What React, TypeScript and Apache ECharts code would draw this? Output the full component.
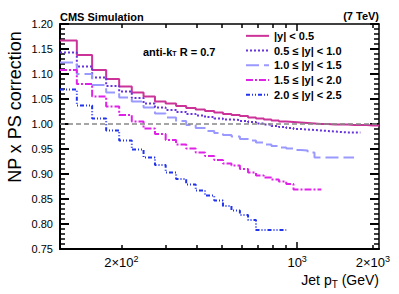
import React, { useEffect, useRef } from "react";
import * as echarts from "echarts";

// Bin edges of jet pT (GeV)
const ptEdges = [114, 133, 153, 174, 196, 220, 245, 272, 300, 330, 362, 395, 430, 468, 507, 548, 592, 638, 686, 737, 790, 846, 905, 967, 1032, 1101, 1172, 1248, 1327, 1410, 1497, 1588, 1684, 1784, 1890, 2000, 2116];

const seriesNames = ["|y| < 0.5", "0.5 ≤ |y| < 1.0", "1.0 ≤ |y| < 1.5", "1.5 ≤ |y| < 2.0", "2.0 ≤ |y| < 2.5"];

// NP x PS correction per bin (starting at the first bin edge)
const corrY00_05 = [1.167, 1.138, 1.108, 1.090, 1.075, 1.063, 1.055, 1.045, 1.041, 1.036, 1.032, 1.029, 1.026, 1.023, 1.020, 1.018, 1.016, 1.013, 1.011, 1.009, 1.007, 1.005, 1.004, 1.003, 1.002, 1.001, 1.000, 1.000, 0.999, 0.999, 0.999, 0.998, 0.998, 0.998, 0.997, 0.997];
const corrY05_10 = [1.143, 1.115, 1.093, 1.076, 1.065, 1.052, 1.041, 1.033, 1.028, 1.024, 1.020, 1.017, 1.014, 1.011, 1.009, 1.008, 1.006, 1.004, 1.001, 0.999, 0.996, 0.994, 0.992, 0.990, 0.989, 0.988, 0.987, 0.986, 0.985, 0.984, 0.983, 0.983, 0.983];
const corrY10_15 = [1.123, 1.100, 1.078, 1.063, 1.053, 1.045, 1.033, 1.021, 1.013, 1.006, 0.998, 0.992, 0.986, 0.982, 0.978, 0.975, 0.970, 0.967, 0.963, 0.959, 0.956, 0.953, 0.951, 0.948, 0.947, 0.943, 0.933, 0.933, 0.933, 0.933, 0.933, 0.933];
const corrY15_20 = [1.108, 1.080, 1.055, 1.035, 1.018, 1.005, 0.991, 0.980, 0.968, 0.959, 0.951, 0.943, 0.936, 0.928, 0.921, 0.917, 0.910, 0.903, 0.897, 0.893, 0.889, 0.885, 0.880, 0.869, 0.869, 0.869, 0.869];
const corrY20_25 = [1.069, 1.037, 1.011, 0.987, 0.967, 0.949, 0.933, 0.918, 0.903, 0.890, 0.879, 0.867, 0.857, 0.847, 0.836, 0.827, 0.818, 0.808, 0.788, 0.788, 0.788, 0.788];

const xMajorTicks = [1000];
const xMinorTicks = [200, 300, 400, 500, 600, 700, 800, 900, 2000];
const xLabelTicks = [200, 1000, 2000];

const colors = ["#cc3399", "#6633dd", "#9999ff", "#e022e8", "#2233ee"];
const dashes: any[] = ["solid", [2, 2], [13, 5], [7, 2, 2, 2], [4, 2, 1, 2, 1, 2]];

const FONT = "'Liberation Sans', Arial, Helvetica, sans-serif";

function hist(values: number[]) {
  const pts = values.map((v, i) => [Math.log10(ptEdges[i]), v]);
  pts.push([Math.log10(ptEdges[values.length]), values[values.length - 1]]);
  return pts;
}

function fmtPow(v: number) {
  const pt = Math.round(Math.pow(10, v));
  const e = Math.floor(Math.log10(pt) + 1e-9);
  const m = Math.round(pt / Math.pow(10, e));
  return (m === 1 ? "" : m + "×") + "10{sup|" + e + "}";
}

export default function App() {
  const ref = useRef<HTMLDivElement>(null);
  useEffect(() => {
    if (!ref.current) return;
    const chart = echarts.init(ref.current, null, { renderer: "svg" });
    const xmin = Math.log10(ptEdges[0]);
    const xmax = Math.log10(ptEdges[ptEdges.length - 1]);
    const lg = (a: number[]) => a.map((v) => Math.log10(v));
    const baseX = {
      type: "value",
      min: xmin,
      max: xmax,
      splitLine: { show: false },
    };
    const allData = [corrY00_05, corrY05_10, corrY10_15, corrY15_20, corrY20_25];
    const series: any[] = allData.map((d, i) => ({
      name: seriesNames[i],
      type: "line",
      step: "end",
      symbol: "none",
      xAxisIndex: 0,
      yAxisIndex: 0,
      data: hist(d),
      lineStyle: { color: colors[i], width: 2, type: dashes[i] },
      itemStyle: { color: colors[i] },
      z: 3 + i,
    }));
    series[0].markLine = {
      silent: true,
      symbol: ["none", "none"],
      label: { show: false },
      lineStyle: { color: "#888888", width: 1.5, type: [5, 3] },
      data: [{ yAxis: 1 }],
      z: 10,
    };
    const option: any = {
      animation: false,
      grid: { left: 60, right: 20, top: 24, bottom: 45 },
      legend: {
        orient: "vertical",
        left: 245,
        top: 29,
        padding: 0,
        itemWidth: 23,
        itemHeight: 8,
        itemGap: 1,
        data: seriesNames,
        itemStyle: { opacity: 0 },
        textStyle: { fontFamily: FONT, fontSize: 11, fontWeight: "bold", color: "#000", lineHeight: 13.7 },
      },
      xAxis: [
        {
          ...baseX,
          position: "bottom",
          axisLine: { show: true, lineStyle: { color: "#000", width: 2 } },
          axisTick: { show: true, inside: true, length: 7, customValues: lg(xMajorTicks), lineStyle: { color: "#000", width: 1.5 } },
          axisLabel: {
            show: true,
            customValues: lg(xLabelTicks),
            formatter: fmtPow,
            margin: 5,
            color: "#000",
            fontFamily: FONT,
            fontSize: 13,
            lineHeight: 17,
            rich: {
              sup: { fontSize: 9, lineHeight: 9, verticalAlign: "top", fontFamily: FONT, color: "#000" },
            },
          },
        },
        {
          ...baseX,
          position: "bottom",
          axisLine: { show: false },
          axisTick: { show: true, inside: true, length: 4, customValues: lg(xMinorTicks), lineStyle: { color: "#000", width: 1.5 } },
          axisLabel: { show: false },
        },
        {
          ...baseX,
          position: "top",
          axisLine: { show: true, lineStyle: { color: "#000", width: 1.5 } },
          axisTick: { show: true, inside: true, length: 7, customValues: lg(xMajorTicks), lineStyle: { color: "#000", width: 1.5 } },
          axisLabel: { show: false },
        },
        {
          ...baseX,
          position: "top",
          axisLine: { show: false },
          axisTick: { show: true, inside: true, length: 4, customValues: lg(xMinorTicks), lineStyle: { color: "#000", width: 1.5 } },
          axisLabel: { show: false },
        },
      ],
      yAxis: [
        {
          type: "value",
          position: "left",
          min: 0.75,
          max: 1.2,
          interval: 0.05,
          splitLine: { show: false },
          axisLine: { show: true, lineStyle: { color: "#000", width: 2 } },
          axisTick: { show: true, inside: true, length: 9, lineStyle: { color: "#000", width: 2 } },
          minorTick: { show: true, splitNumber: 5, length: 5, lineStyle: { color: "#000", width: 1.5 } },
          minorSplitLine: { show: false },
          axisLabel: {
            formatter: (v: number) => v.toFixed(2),
            color: "#000",
            fontFamily: FONT,
            fontSize: 11,
            margin: 7,
          },
        },
        {
          type: "value",
          position: "right",
          min: 0.75,
          max: 1.2,
          interval: 0.05,
          splitLine: { show: false },
          axisLine: { show: true, lineStyle: { color: "#000", width: 1.5 } },
          axisTick: { show: true, inside: true, length: 9, lineStyle: { color: "#000", width: 2 } },
          minorTick: { show: true, splitNumber: 5, length: 5, lineStyle: { color: "#000", width: 1.5 } },
          minorSplitLine: { show: false },
          axisLabel: { show: false },
        },
      ],
      graphic: [
        {
          type: "text",
          left: 60,
          top: 11,
          style: { text: "CMS Simulation", font: `bold 11px ${FONT}`, fill: "#000" },
        },
        {
          type: "text",
          right: 20,
          top: 10,
          style: { text: "(7 TeV)", font: `bold 11px ${FONT}`, fill: "#000" },
        },
        {
          type: "text",
          left: 143,
          top: 46,
          style: {
            text: "anti-k{sub|T} R = 0.7",
            font: `bold 11px ${FONT}`,
            fill: "#000",
            rich: {
              sub: { fontSize: 7, lineHeight: 7, verticalAlign: "bottom", fontWeight: "bold", fontFamily: FONT, fill: "#000" },
            },
          },
        },
        {
          type: "text",
          x: 15,
          y: 107,
          rotation: Math.PI / 2,
          style: {
            text: "NP x PS correction",
            font: `18px ${FONT}`,
            fill: "#000",
            align: "center",
            verticalAlign: "middle",
          },
        },
        {
          type: "text",
          x: 379,
          y: 280,
          style: {
            text: "Jet p{sub|T} (GeV)",
            font: `14px ${FONT}`,
            fill: "#000",
            align: "right",
            verticalAlign: "middle",
            lineHeight: 18,
            rich: {
              sub: { fontSize: 10, lineHeight: 10, verticalAlign: "bottom", fontFamily: FONT, fill: "#000" },
            },
          },
        },
      ],
      series,
    };
    chart.setOption(option);
    return () => chart.dispose();
  }, []);
  return (
    <div
      ref={ref}
      style={{ position: "fixed", left: 0, top: 0, width: 399, height: 294, background: "#fff" }}
    />
  );
}
